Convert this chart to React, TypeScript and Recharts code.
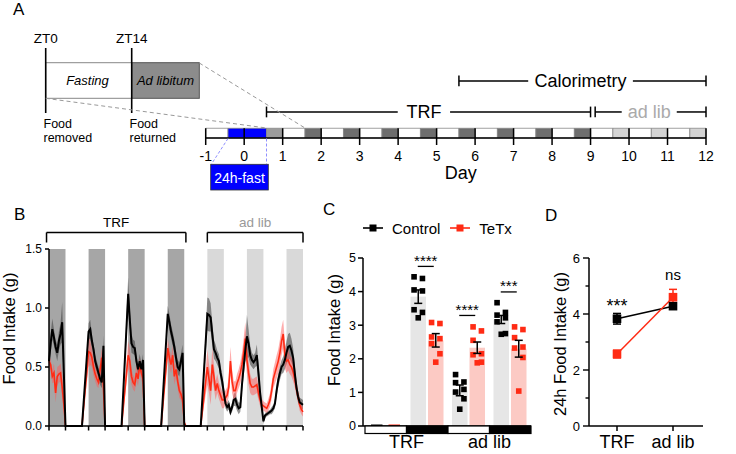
import React from "react";
import {
  ComposedChart,
  LineChart,
  Line,
  Area,
  Bar,
  XAxis,
  YAxis,
  ReferenceArea,
  ReferenceLine,
  ReferenceDot,
  ErrorBar,
  Legend,
} from "recharts";

const FONT = '"Liberation Sans", Arial, Helvetica, sans-serif';
const RED = "#ff2b14";

// ---------- A: protocol timeline ----------
const dayTicks = [-1, 0, 1, 2, 3, 4, 5, 6, 7, 8, 9, 10, 11, 12];
const cellEdges = [
  -1, -0.42, 0.58, 1, 1.58, 2, 2.58, 3, 3.58, 4, 4.58, 5, 5.58, 6, 6.58, 7,
  7.58, 8, 8.58, 9, 9.58, 10, 10.58, 11, 11.58, 12,
];
const cellKinds = [
  "light", "fast", "refeed",
  "light", "trf", "light", "trf", "light", "trf", "light", "trf",
  "light", "trf", "light", "trf", "light", "trf", "light", "trf",
  "light", "adlib", "light", "adlib", "light", "adlib",
];
const cellFill: Record<string, string> = {
  light: "#ffffff",
  fast: "#0000ff",
  refeed: "#9c9c9c",
  trf: "#6e6e6e",
  adlib: "#d4d4d4",
};
const periods = [
  { name: "Calorimetry", from: 5.58, to: 12, level: 5.85, gap: [7.38, 10.1], text: "#000" },
  { name: "TRF", from: 0.58, to: 9, level: 2.67, gap: [3.99, 5.35], text: "#000" },
  { name: "ad lib", from: 9.12, to: 12, level: 2.67, gap: [9.81, 11.24], text: "#aaa" },
];

// ---------- B: hourly food intake (g) ----------
const intakeHours = [
  0, 1, 2, 3, 4, 5, 6, 7, 8, 9, 10, 20,
  24, 25, 26, 27, 28, 29, 30, 31, 32, 33, 34, 44,
  48, 49, 50, 51, 52, 53, 54, 55, 56, 57, 58, 68,
  72, 73, 74, 75, 76, 77, 78, 79, 80, 81, 82, 83, 92,
  96, 97, 98, 99, 100, 101, 102, 103, 104, 105,
  106, 107, 108, 109, 110, 111, 112, 113, 114, 115,
  116, 117, 118, 119, 120, 121, 122, 123, 124, 125,
  126, 127, 128, 129, 130, 131, 132, 133, 134, 135,
  136, 137, 138, 139, 140, 141, 142, 143, 144, 145,
  146, 147, 148, 149, 150, 151, 152, 153, 154,
];
const ctrlMean = [
  0.55, 0.7, 0.82, 0.75, 0.67, 0.62, 0.72, 0.78, 0.88, 0.45, 0, 0,
  0.8, 0.82, 0.72, 0.65, 0.55, 0.5, 0.45, 0.4, 0.37, 0.68, 0, 0,
  1.12, 0.9, 0.7, 0.67, 0.66, 0.55, 0.48, 0.55, 0.48, 0.56, 0, 0,
  0.95, 0.88, 0.8, 0.74, 0.67, 0.58, 0.5, 0.48, 0.55, 0.62, 0.01, 0, 0,
  0.95, 0.94, 0.92, 0.78, 0.65, 0.62, 0.58, 0.55, 0.45, 0.38,
  0.28, 0.19, 0.16, 0.18, 0.12, 0.16, 0.22, 0.23, 0.18, 0.15,
  0.16, 0.35, 0.5, 0.64, 0.76, 0.7, 0.6, 0.56, 0.54, 0.56,
  0.6, 0.45, 0.28, 0.16, 0.04, 0.09, 0.1, 0.11, 0.12, 0.13,
  0.15, 0.19, 0.3, 0.39, 0.45, 0.5, 0.52, 0.56, 0.62, 0.67,
  0.68, 0.64, 0.58, 0.45, 0.33, 0.25, 0.2, 0.19, 0.18,
];
const ctrlSem = [
  0.05, 0.08, 0.09, 0.07, 0.06, 0.07, 0.08, 0.09, 0.17, 0.1, 0, 0,
  0.07, 0.08, 0.06, 0.05, 0.05, 0.05, 0.05, 0.05, 0.05, 0.09, 0, 0,
  0.14, 0.1, 0.08, 0.06, 0.06, 0.05, 0.05, 0.06, 0.05, 0.05, 0, 0,
  0.07, 0.07, 0.06, 0.06, 0.06, 0.06, 0.06, 0.06, 0.06, 0.07, 0.01, 0, 0,
  0.14, 0.14, 0.12, 0.1, 0.08, 0.07, 0.06, 0.06, 0.06, 0.06,
  0.05, 0.04, 0.04, 0.04, 0.03, 0.04, 0.05, 0.06, 0.05, 0.05,
  0.04, 0.06, 0.08, 0.1, 0.18, 0.12, 0.08, 0.06, 0.06, 0.06,
  0.09, 0.08, 0.06, 0.04, 0.02, 0.02, 0.02, 0.02, 0.02, 0.03,
  0.03, 0.04, 0.05, 0.06, 0.06, 0.06, 0.07, 0.08, 0.1, 0.11,
  0.11, 0.1, 0.08, 0.07, 0.06, 0.05, 0.04, 0.04, 0.04,
];
const tetxMean = [
  0.55, 0.52, 0.42, 0.45, 0.28, 0.42, 0.44, 0.45, 0.33, 0.19, 0, 0,
  0.63, 0.62, 0.58, 0.5, 0.44, 0.4, 0.37, 0.48, 0.58, 0.32, 0, 0,
  0.6, 0.55, 0.42, 0.37, 0.35, 0.45, 0.4, 0.52, 0.45, 0.4, 0, 0,
  0.66, 0.58, 0.52, 0.6, 0.42, 0.48, 0.38, 0.3, 0.27, 0.22, 0.03, 0, 0,
  0.5, 0.4, 0.3, 0.52, 0.42, 0.3, 0.36, 0.3, 0.26, 0.22,
  0.22, 0.24, 0.26, 0.33, 0.55, 0.38, 0.3, 0.3, 0.36, 0.4,
  0.45, 0.52, 0.62, 0.74, 0.56, 0.45, 0.36, 0.33, 0.33, 0.34,
  0.35, 0.28, 0.22, 0.18, 0.17, 0.16, 0.15, 0.18, 0.22, 0.3,
  0.4, 0.45, 0.5, 0.55, 0.62, 0.72, 0.78, 0.6, 0.55, 0.56,
  0.52, 0.5, 0.46, 0.4, 0.32, 0.25, 0.18, 0.14, 0.12,
];
const tetxSem = [
  0.04, 0.05, 0.06, 0.08, 0.08, 0.08, 0.07, 0.08, 0.1, 0.08, 0, 0,
  0.13, 0.1, 0.08, 0.07, 0.06, 0.06, 0.05, 0.07, 0.08, 0.06, 0, 0,
  0.12, 0.1, 0.07, 0.06, 0.06, 0.07, 0.06, 0.06, 0.06, 0.06, 0, 0,
  0.08, 0.08, 0.07, 0.08, 0.07, 0.07, 0.06, 0.06, 0.05, 0.05, 0.02, 0, 0,
  0.15, 0.12, 0.12, 0.14, 0.1, 0.08, 0.08, 0.07, 0.07, 0.07,
  0.07, 0.06, 0.07, 0.08, 0.12, 0.1, 0.08, 0.08, 0.08, 0.08,
  0.09, 0.1, 0.12, 0.14, 0.12, 0.1, 0.08, 0.07, 0.07, 0.07,
  0.07, 0.06, 0.05, 0.05, 0.04, 0.04, 0.04, 0.05, 0.06, 0.07,
  0.08, 0.09, 0.1, 0.1, 0.11, 0.12, 0.12, 0.11, 0.1, 0.09,
  0.08, 0.08, 0.08, 0.07, 0.06, 0.05, 0.05, 0.04, 0.04,
];
const darkStart = [0, 24, 48, 72, 96, 120, 144];
const darkRegime = ["TRF", "TRF", "TRF", "TRF", "ad lib", "ad lib", "ad lib"];
const phaseTicks = [0, 10, 24, 34, 48, 58, 72, 82, 96, 106, 120, 130, 144, 154];
const bRegimes = [
  { name: "TRF", from: -1.5, to: 83, color: "#000" },
  { name: "ad lib", from: 96, to: 154, color: "#999" },
];

const intake = intakeHours.map((h, i) => ({
  h,
  ctrl: ctrlMean[i],
  tetx: tetxMean[i],
  ctrlBand: [Math.max(0, ctrlMean[i] - ctrlSem[i]), ctrlMean[i] + ctrlSem[i]],
  tetxBand: [Math.max(0, tetxMean[i] - tetxSem[i]), tetxMean[i] + tetxSem[i]],
}));

// ---------- C: intake per light / dark phase ----------
const phaseNames = ["TRF light", "TRF dark", "ad lib light", "ad lib dark"];
const phaseRegime = ["TRF", "TRF", "ad lib", "ad lib"];
const phaseIsLight = [true, false, true, false];
const ctrlPhase = [0.03, 3.85, 1.06, 3.17];
const ctrlPhaseSem = [0, 0.2, 0.16, 0.12];
const tetxPhase = [0.03, 2.55, 2.33, 2.3];
const tetxPhaseSem = [0, 0.2, 0.17, 0.25];
const ctrlDots = [
  [],
  [4.44, 4.39, 4.05, 4.02, 3.46, 3.38, 3.22],
  [1.53, 1.31, 1.29, 1.09, 1.01, 0.81, 0.5],
  [3.67, 3.38, 3.3, 3.22, 3.1, 2.75, 2.73],
];
const tetxDots = [
  [],
  [3.08, 3.05, 2.65, 2.6, 2.45, 2.15, 1.9],
  [2.95, 2.83, 2.55, 2.15, 2.12, 1.9, 1.88],
  [2.95, 2.87, 2.63, 2.35, 2.32, 2.04, 1.04],
];
const phaseSig = ["", "****", "****", "***"];
const phaseSigAt = [0, 4.75, 3.29, 3.99];

const phaseRows = phaseNames.map((p, i) => ({
  phase: p,
  ctrl: ctrlPhase[i],
  ctrlSem: ctrlPhaseSem[i],
  tetx: tetxPhase[i],
  tetxSem: tetxPhaseSem[i],
}));

// ---------- D: 24h intake ----------
const regimes = ["TRF", "ad lib"];
const dayCtrl = [3.83, 4.28];
const dayCtrlSem = [0.19, 0.06];
const dayTetx = [2.57, 4.6];
const dayTetxSem = [0.14, 0.28];
const daySig = ["***", "ns"];
const daySigAt = [4.07, 5.21];

const dayRows = regimes.map((r, i) => ({
  regime: r,
  ctrl: dayCtrl[i],
  ctrlSem: dayCtrlSem[i],
  tetx: dayTetx[i],
  tetxSem: dayTetxSem[i],
}));

// ---------- helpers ----------
const yTitle = (text: string, dx: number, dy: number) => (props: any) => {
  const vb = props.viewBox;
  const cx = vb.x + dx;
  const cy = vb.y + vb.height / 2 + dy;
  return (
    <text
      x={cx}
      y={cy}
      transform={`rotate(-90 ${cx} ${cy})`}
      textAnchor="middle"
      dominantBaseline="central"
      fontSize={16.5}
      fill="#000"
    >
      {text}
    </text>
  );
};

const C_W = 240;
const C_M = { top: 48, right: 9, bottom: 4, left: 33 };
const C_YW = 30;
const C_PAD = 2;
const C_BAND = (C_W - C_M.left - C_M.right - C_YW - C_PAD) / phaseNames.length;

const PhaseTick = (props: any) => {
  const { x, y, index } = props;
  const first = index === 0 || phaseRegime[index] !== phaseRegime[index - 1];
  return (
    <g>
      <rect
        x={x - C_BAND / 2}
        y={y}
        width={C_BAND}
        height={7.5}
        fill={phaseIsLight[index] ? "#fff" : "#000"}
        stroke="#000"
        strokeWidth={1.2}
      />
      {first && (
        <text x={x + C_BAND / 2} y={y + 22} textAnchor="middle" fontSize={18} fill="#000">
          {phaseRegime[index]}
        </text>
      )}
    </g>
  );
};

const HourTick = (props: any) => (
  <line x1={props.x} x2={props.x} y1={props.y} y2={props.y + 4.5} stroke="#000" strokeWidth={1.5} />
);

const DotBar = (props: any) => {
  const { x, y, width, height, fill, pts, dotColor, val } = props;
  if (val < 0.1) {
    return <rect x={x + 2} y={y + height - 1.5} width={width - 4} height={2} fill={dotColor} />;
  }
  const unit = height / val;
  const base = y + height;
  return (
    <g>
      <rect x={x} y={y} width={width} height={height} fill={fill} />
      {pts.map((p: number, i: number) => {
        const off = i === pts.length - 1 ? 0 : (i % 2 ? 0.27 : -0.27) * width;
        return (
          <rect
            key={i}
            x={x + width / 2 + off - 2.8}
            y={base - p * unit - 2.8}
            width={5.6}
            height={5.6}
            fill={dotColor}
          />
        );
      })}
    </g>
  );
};

const legendColor: Record<string, string> = { Control: "#000", TeTx: RED };
const CLegend = (props: any) => (
  <div style={{ display: "flex", alignItems: "center", height: 20, fontSize: 15, fontFamily: FONT, color: "#000" }}>
    {(props.payload || []).map((e: any, i: number) => (
      <div key={e.value} style={{ display: "flex", alignItems: "center", marginLeft: i ? 10 : 0 }}>
        <svg width={20} height={10}>
          <line x1={0} x2={20} y1={5} y2={5} stroke={legendColor[e.value]} strokeWidth={1.6} />
          <rect x={6.5} y={1.5} width={7} height={7} fill={legendColor[e.value]} />
        </svg>
        <span style={{ marginLeft: 9 }}>{e.value}</span>
      </div>
    ))}
  </div>
);

const SquareDot = (props: any) => {
  const { cx, cy, stroke } = props;
  if (cx == null || cy == null) return null;
  return <rect x={cx - 4.3} y={cy - 4.3} width={8.6} height={8.6} fill={stroke} />;
};

const DTick = (props: any) => {
  const { x, y, payload } = props;
  const major = payload.value % 2 === 0;
  return (
    <g>
      <line x1={x - (major ? 6 : 3.5)} x2={x} y1={y} y2={y} stroke="#000" strokeWidth={1.4} />
      {major && (
        <text x={x - 9} y={y} textAnchor="end" dominantBaseline="central" fontSize={13} fill="#000">
          {payload.value}
        </text>
      )}
    </g>
  );
};

const axisStroke = { stroke: "#000", strokeWidth: 1.5 };

export default function App() {
  return (
    <div
      style={{
        position: "absolute",
        left: 0,
        top: 0,
        width: 736,
        height: 454,
        background: "#fff",
        fontFamily: FONT,
        overflow: "hidden",
      }}
    >
      {/* A: timeline */}
      <div style={{ position: "absolute", left: 0, top: 0 }}>
        <ComposedChart
          width={736}
          height={200}
          data={dayTicks.map((d) => ({ day: d, base: 0 }))}
          margin={{ top: 60, right: 30, bottom: 0, left: 205.7 }}
        >
          <XAxis
            dataKey="day"
            type="number"
            domain={[-1, 12]}
            ticks={dayTicks}
            interval={0}
            height={62}
            tickSize={7}
            tickMargin={6}
            axisLine={axisStroke}
            tickLine={axisStroke}
            tick={{ fontSize: 14, fill: "#000" }}
            label={(p: any) => (
              <text
                x={p.viewBox.x + p.viewBox.width / 2 + 5}
                y={p.viewBox.y + 41}
                textAnchor="middle"
                fontSize={18}
                fill="#000"
              >
                Day
              </text>
            )}
          />
          <YAxis hide type="number" domain={[0, 8]} />
          <Line dataKey="base" stroke="none" dot={false} activeDot={false} isAnimationActive={false} />
          {cellKinds.map((k, i) => (
            <ReferenceArea
              key={`cell${i}`}
              x1={cellEdges[i]}
              x2={cellEdges[i + 1]}
              y1={0}
              y2={1}
              fill={cellFill[k]}
              fillOpacity={1}
              stroke="#888"
              strokeWidth={0.8}
            />
          ))}
          {dayTicks.map((d) => (
            <ReferenceLine
              key={`dt${d}`}
              segment={[{ x: d, y: 0 }, { x: d, y: 1 }]}
              stroke="#000"
              strokeWidth={1.5}
            />
          ))}
          {periods.map((p) => [
            <ReferenceLine key={`${p.name}l`} segment={[{ x: p.from, y: p.level }, { x: p.gap[0], y: p.level }]} stroke="#000" strokeWidth={1.5} />,
            <ReferenceLine key={`${p.name}r`} segment={[{ x: p.gap[1], y: p.level }, { x: p.to, y: p.level }]} stroke="#000" strokeWidth={1.5} />,
            <ReferenceLine key={`${p.name}a`} segment={[{ x: p.from, y: p.level - 0.55 }, { x: p.from, y: p.level + 0.55 }]} stroke="#000" strokeWidth={1.5} />,
            <ReferenceLine key={`${p.name}b`} segment={[{ x: p.to, y: p.level - 0.55 }, { x: p.to, y: p.level + 0.55 }]} stroke="#000" strokeWidth={1.5} />,
            <ReferenceDot
              key={`${p.name}t`}
              x={(p.gap[0] + p.gap[1]) / 2}
              y={p.level}
              r={0}
              shape={(s: any) => (
                <text x={s.cx} y={s.cy + 6.5} textAnchor="middle" fontSize={18} fill={p.text}>
                  {p.name}
                </text>
              )}
            />,
          ])}
        </ComposedChart>
      </div>

      {/* B: hourly intake */}
      <div style={{ position: "absolute", left: 0, top: 190 }}>
        <ComposedChart width={320} height={264} data={intake} margin={{ top: 59, right: 17, bottom: 8, left: 9 }}>
          <XAxis
            dataKey="h"
            type="number"
            domain={[0, 154]}
            ticks={phaseTicks}
            interval={0}
            height={20}
            tickSize={0}
            tickMargin={0}
            axisLine={axisStroke}
            tickLine={false}
            tick={<HourTick />}
          />
          <YAxis
            type="number"
            domain={[0, 1.5]}
            ticks={[0, 0.5, 1, 1.5]}
            width={40}
            tickSize={4}
            tickMargin={3}
            tickFormatter={(v: number) => v.toFixed(1)}
            axisLine={axisStroke}
            tickLine={axisStroke}
            tick={{ fontSize: 12, fill: "#000" }}
            label={yTitle("Food Intake (g)", 0, -9)}
          />
          {darkStart.map((s, i) => (
            <ReferenceArea
              key={`dk${i}`}
              x1={s}
              x2={s + 10}
              y1={0}
              y2={1.5}
              fill={darkRegime[i] === "TRF" ? "#a6a6a6" : "#d9d9d9"}
              fillOpacity={1}
              stroke="none"
            />
          ))}
          <Area dataKey="ctrlBand" type="linear" stroke="none" fill="#3c3c3c" fillOpacity={0.55} isAnimationActive={false} dot={false} activeDot={false} />
          <Area dataKey="tetxBand" type="linear" stroke="none" fill="#ff5a5a" fillOpacity={0.5} isAnimationActive={false} dot={false} activeDot={false} />
          <Line dataKey="tetx" type="linear" stroke={RED} strokeWidth={1.6} dot={false} activeDot={false} isAnimationActive={false} />
          <Line dataKey="ctrl" type="linear" stroke="#000" strokeWidth={2} dot={false} activeDot={false} isAnimationActive={false} />
          {bRegimes.map((r) => [
            <ReferenceLine key={`${r.name}h`} ifOverflow="visible" segment={[{ x: r.from, y: 1.64 }, { x: r.to, y: 1.64 }]} stroke="#000" strokeWidth={1.5} />,
            <ReferenceLine key={`${r.name}a`} ifOverflow="visible" segment={[{ x: r.from, y: 1.555 }, { x: r.from, y: 1.64 }]} stroke="#000" strokeWidth={1.5} />,
            <ReferenceLine key={`${r.name}b`} ifOverflow="visible" segment={[{ x: r.to, y: 1.555 }, { x: r.to, y: 1.64 }]} stroke="#000" strokeWidth={1.5} />,
            <ReferenceDot
              key={`${r.name}t`}
              ifOverflow="visible"
              x={(r.from + r.to) / 2}
              y={1.64}
              r={0}
              shape={(s: any) => (
                <text x={s.cx} y={s.cy - 5} textAnchor="middle" fontSize={13.5} fill={r.color}>
                  {r.name}
                </text>
              )}
            />,
          ])}
        </ComposedChart>
      </div>

      {/* C: light / dark intake */}
      <div style={{ position: "absolute", left: 300, top: 190 }}>
        <ComposedChart width={C_W} height={264} data={phaseRows} margin={C_M} barSize={15.5} barGap={2}>
          <Legend
            verticalAlign="top"
            align="left"
            content={<CLegend />}
            wrapperStyle={{ top: 28, left: 63, width: "auto", height: 20 }}
          />
          <XAxis
            dataKey="phase"
            type="category"
            interval={0}
            height={24}
            padding={{ left: C_PAD, right: 0 }}
            tickSize={0}
            tickMargin={0}
            tickLine={false}
            axisLine={axisStroke}
            tick={<PhaseTick />}
          />
          <YAxis
            type="number"
            domain={[0, 5]}
            ticks={[0, 1, 2, 3, 4, 5]}
            width={C_YW}
            tickSize={5}
            tickMargin={2}
            axisLine={axisStroke}
            tickLine={axisStroke}
            tick={{ fontSize: 12.5, fill: "#000" }}
            label={yTitle("Food Intake (g)", 1, -12)}
          />
          <Bar
            dataKey="ctrl"
            name="Control"
            fill="#e6e6e6"
            isAnimationActive={false}
            shape={(p: any) => <DotBar {...p} pts={ctrlDots[p.index]} dotColor="#000" val={ctrlPhase[p.index]} />}
          >
            <ErrorBar dataKey="ctrlSem" width={4} stroke="#000" strokeWidth={1.5} direction="y" />
          </Bar>
          <Bar
            dataKey="tetx"
            name="TeTx"
            fill="#fccac4"
            isAnimationActive={false}
            shape={(p: any) => <DotBar {...p} pts={tetxDots[p.index]} dotColor={RED} val={tetxPhase[p.index]} />}
          >
            <ErrorBar dataKey="tetxSem" width={4} stroke="#000" strokeWidth={1.5} direction="y" />
          </Bar>
          {phaseNames.map((p, i) =>
            phaseSig[i] ? (
              <ReferenceDot
                key={`sig${i}`}
                x={p}
                y={phaseSigAt[i]}
                r={0}
                ifOverflow="visible"
                shape={(s: any) => (
                  <g>
                    <line x1={s.cx - 9.5} x2={s.cx + 6.5} y1={s.cy} y2={s.cy} stroke="#000" strokeWidth={1.3} />
                    <text x={s.cx - 1.5} y={s.cy - 0.5} textAnchor="middle" fontSize={15} fill="#000">
                      {phaseSig[i]}
                    </text>
                  </g>
                )}
              />
            ) : null
          )}
        </ComposedChart>
      </div>

      {/* D: 24h intake */}
      <div style={{ position: "absolute", left: 540, top: 190 }}>
        <LineChart width={196} height={264} data={dayRows} margin={{ top: 68, right: 33, bottom: 0, left: 19 }}>
          <XAxis
            dataKey="regime"
            type="category"
            interval={0}
            height={28}
            padding={{ left: 28, right: 30 }}
            tickSize={5}
            tickMargin={4}
            axisLine={axisStroke}
            tickLine={axisStroke}
            tick={{ fontSize: 18, fill: "#000" }}
          />
          <YAxis
            type="number"
            domain={[0, 6]}
            ticks={[0, 1, 2, 3, 4, 5, 6]}
            width={30}
            tickSize={0}
            tickMargin={0}
            tickLine={false}
            axisLine={axisStroke}
            tick={<DTick />}
            label={yTitle("24h Food Intake (g)", 1, 2)}
          />
          <Line dataKey="ctrl" stroke="#000" strokeWidth={1.5} dot={<SquareDot />} activeDot={false} isAnimationActive={false}>
            <ErrorBar dataKey="ctrlSem" width={4} stroke="#000" strokeWidth={1.5} direction="y" />
          </Line>
          <Line dataKey="tetx" stroke={RED} strokeWidth={1.5} dot={<SquareDot />} activeDot={false} isAnimationActive={false}>
            <ErrorBar dataKey="tetxSem" width={4} stroke={RED} strokeWidth={1.5} direction="y" />
          </Line>
          {regimes.map((r, i) => (
            <ReferenceDot
              key={`dsig${i}`}
              x={r}
              y={daySigAt[i]}
              r={0}
              ifOverflow="visible"
              shape={(s: any) => (
                <text x={s.cx} y={s.cy} textAnchor="middle" fontSize={i === 0 ? 18 : 15} fill="#000">
                  {daySig[i]}
                </text>
              )}
            />
          ))}
        </LineChart>
      </div>

      {/* schematic + panel letters */}
      <svg
        width={736}
        height={454}
        style={{ position: "absolute", left: 0, top: 0, pointerEvents: "none" }}
        fontFamily={FONT}
      >
        <text x={13} y={15} fontSize={17}>A</text>
        <text x={14} y={220} fontSize={17}>B</text>
        <text x={323} y={215} fontSize={17}>C</text>
        <text x={545} y={221} fontSize={17}>D</text>

        <text x={45.7} y={43} fontSize={13.5} textAnchor="middle">ZT0</text>
        <text x={131.7} y={43} fontSize={13.5} textAnchor="middle">ZT14</text>
        <rect x={45.7} y={62.7} width={86} height={35.6} fill="#fff" stroke="#888" strokeWidth={1} />
        <rect x={131.7} y={62.7} width={67.6} height={35.6} fill="#8c8c8c" stroke="#555" strokeWidth={1} />
        <line x1={45.7} y1={48} x2={45.7} y2={113} stroke="#000" strokeWidth={1.6} />
        <line x1={131.7} y1={48} x2={131.7} y2={113} stroke="#000" strokeWidth={1.6} />
        <text x={87.5} y={85} fontSize={13} fontStyle="italic" textAnchor="middle">Fasting</text>
        <text x={165.5} y={85} fontSize={13} fontStyle="italic" textAnchor="middle">Ad libitum</text>
        <text x={43.5} y={128} fontSize={12.5}>Food</text>
        <text x={43.5} y={142} fontSize={12.5}>removed</text>
        <text x={129.5} y={128} fontSize={12.5}>Food</text>
        <text x={129.5} y={142} fontSize={12.5}>returned</text>
        <line x1={199.3} y1={63} x2={305} y2={128} stroke="#999" strokeWidth={1} strokeDasharray="4 3" />
        <line x1={45.7} y1={98.3} x2={266.5} y2={128} stroke="#999" strokeWidth={1} strokeDasharray="4 3" />

        <line x1={228} y1={138.5} x2={211.5} y2={164} stroke="#8f8fff" strokeWidth={1} strokeDasharray="3 2" />
        <line x1={266.5} y1={138.5} x2={266.5} y2={164} stroke="#8f8fff" strokeWidth={1} strokeDasharray="3 2" />
        <rect x={210.7} y={164.3} width={57.6} height={25.7} fill="#0000ff" stroke="#333" strokeWidth={0.8} />
        <text x={239.5} y={182.5} fontSize={14} fill="#fff" textAnchor="middle">24h-fast</text>
      </svg>
    </div>
  );
}
